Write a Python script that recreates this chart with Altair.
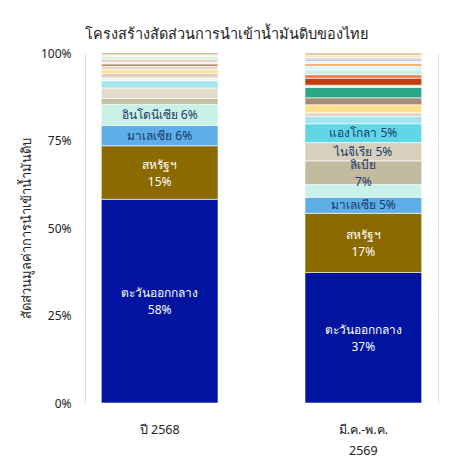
import altair as alt
import pandas as pd

periods = ["ปี 2568", "มี.ค.-พ.ค.\n2569"]

# Period 1 (bottom to top)
names1 = ["ตะวันออกกลาง", "สหรัฐฯ", "มาเลเซีย", "อินโดนีเซีย",
          "", "", "", "", "", "", "", "", "", "", "", "", ""]
values1 = [58.2, 15.3, 5.8, 6.0,
           1.7, 3.0, 2.1, 0.8, 1.3, 1.0, 1.0, 0.7, 0.4, 1.0, 0.7, 0.5, 0.5]
colors1 = ["#0014a0", "#8b6a00", "#5eaee8", "#c9f1e6",
           "#c8bea1", "#e3dccb", "#a5e5ef", "#eef0ea", "#dfcfc0", "#fde189",
           "#e6d8c8", "#a68a6c", "#f0ece4", "#e3d4c6", "#d3eede", "#f2f2ea", "#c8a86c"]

# Period 2 (bottom to top)
names2 = ["ตะวันออกกลาง", "สหรัฐฯ", "มาเลเซีย", "", "ลิเบีย", "ไนจีเรีย", "แองโกลา",
          "", "", "", "", "", "", "", "", "", "", "", "", "", "", "", ""]
values2 = [37.3, 16.9, 4.6, 3.6, 6.8, 5.2, 5.4,
           2.1, 1.0, 2.3, 2.0, 3.0, 0.6, 2.0, 1.0, 1.4, 1.1, 0.6, 0.8, 0.6, 0.5, 0.6, 0.6]
colors2 = ["#0014a0", "#8b6a00", "#5eaee8", "#c9f3e9", "#c2bb9f", "#d7d0bc", "#5fd7e5",
           "#a2e5ef", "#e4d3c2", "#fee18a", "#a48c76", "#2aa886", "#e9f3ef", "#bf3d0e",
           "#f2784c", "#c5f1f3", "#d8f6f6", "#f08a2c", "#e8f2f2", "#a9b6e2", "#e0d2c0",
           "#f3e6b0", "#d9bb7e"]

dark_segments = ["ตะวันออกกลาง", "สหรัฐฯ"]

rows = []
for period, names, values, colors in [(periods[0], names1, values1, colors1),
                                      (periods[1], names2, values2, colors2)]:
    for i, (n, v, c) in enumerate(zip(names, values, colors)):
        lines = 0
        if n and v >= 4.5:
            pct = round(v)
            if v >= 6.5:
                label, lines = f"{n}\n{pct}%", 2
            else:
                label, lines = f"{n} {pct}%", 1
        else:
            label = ""
        rows.append({
            "period": period, "name": n if n else f"อื่นๆ {i}", "value": v,
            "order": i, "fill": c, "label": label, "lines": lines,
            "tcolor": "#ffffff" if n in dark_segments else "#1b3a6b",
        })
df = pd.DataFrame(rows)

base = alt.Chart(df).transform_stack(
    stack="value", as_=["v0", "v1"], groupby=["period"],
    sort=[alt.SortField("order", order="ascending")], offset="normalize"
).transform_calculate(mid="(datum.v0 + datum.v1) / 2")

xenc = alt.X("period:N", sort=periods, title=None,
             scale=alt.Scale(paddingInner=0.427, paddingOuter=0.08),
             axis=alt.Axis(labelAngle=0, labelExpr="split(datum.label, '\\n')",
                           labelLineHeight=21, labelPadding=20, labelFontSize=12.5,
                           ticks=False, domain=False, grid=False, labelColor="#222"))

bars = base.mark_bar(stroke="white", strokeWidth=0.6).encode(
    x=xenc,
    y=alt.Y("v0:Q", scale=alt.Scale(domain=[0, 1]),
            title="สัดส่วนมูลค่าการนำเข้าน้ำมันดิบ",
            axis=alt.Axis(format="%", values=[0, 0.25, 0.5, 0.75, 1], ticks=False,
                          domain=False, gridColor="white", gridWidth=1.2,
                          labelPadding=14, labelFontSize=12, labelColor="#222",
                          titleFontSize=13, titleFontWeight="normal", titleColor="#222",
                          titlePadding=7)),
    y2="v1:Q",
    color=alt.Color("fill:N", scale=None),
)

text_enc = dict(
    x=alt.X("period:N", sort=periods),
    y=alt.Y("mid:Q"),
    text="label:N",
    color=alt.Color("tcolor:N", scale=None),
)

texts1 = base.transform_filter("datum.lines == 1").mark_text(
    fontSize=12, baseline="middle").encode(**text_enc)
texts2 = base.transform_filter("datum.lines == 2").mark_text(
    fontSize=12, lineBreak="\n", lineHeight=17, baseline="middle", dy=-8).encode(**text_enc)

chart = alt.layer(bars, texts1, texts2).properties(
    width=353, height=350,
    title=alt.TitleParams("โครงสร้างสัดส่วนการนำเข้าน้ำมันดิบของไทย", anchor="start",
                          frame="group", fontSize=14.5, fontWeight="normal",
                          color="#222", offset=5),
    autosize=alt.AutoSizeParams(type="none"),
    padding={"left": 77, "top": 45, "right": 3, "bottom": 62},
).configure_view(fill="#EAEAF2", stroke=None).configure(font="Noto Sans")

chart.save("out.html", embed_options={"renderer": "svg", "actions": False})
